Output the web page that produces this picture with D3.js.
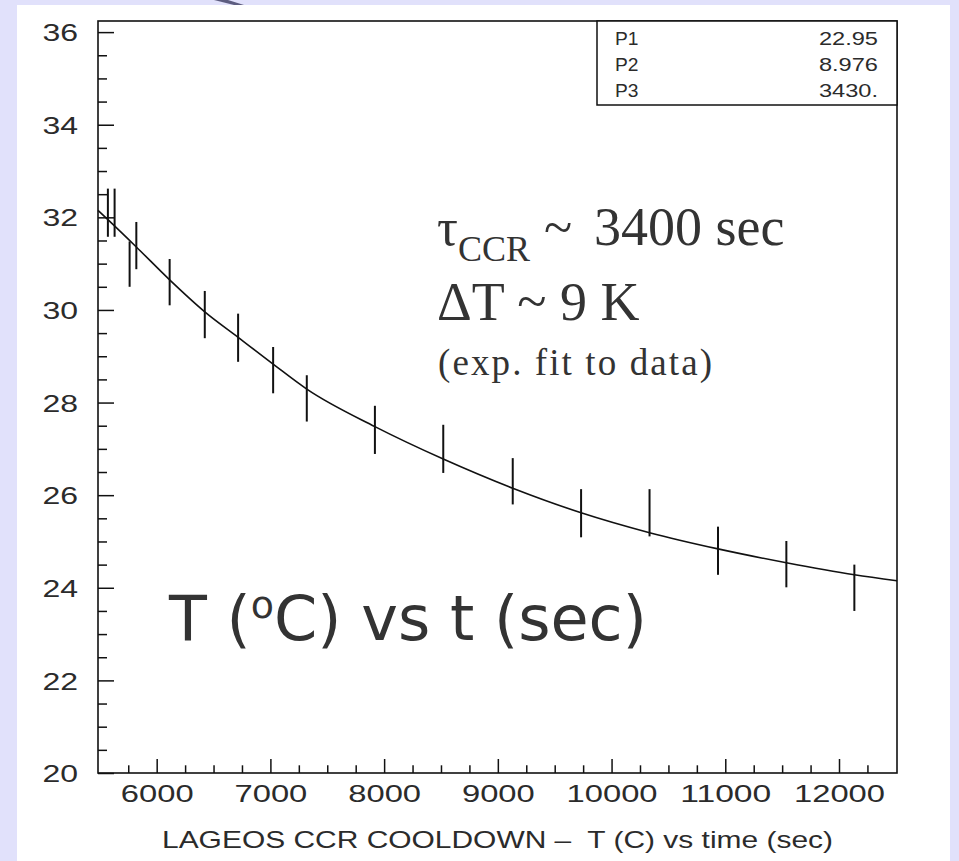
<!DOCTYPE html>
<html><head><meta charset="utf-8">
<script src="https://cdn.jsdelivr.net/npm/d3@7"></script>
<style>
html,body{margin:0;padding:0;background:#e1e1fb;overflow:hidden}
text{white-space:pre}
</style>
</head><body><svg id="c" width="959" height="861"></svg>
<script>
// ---- data ----
const times  = [5571, 5630, 5762, 5821, 6114, 6423, 6716, 7024, 7320, 7919, 8520, 9131, 9732, 10334, 10936, 11537, 12135];
const temps  = [32.10, 32.10, 30.99, 31.39, 30.60, 29.90, 29.40, 28.70, 28.09, 27.41, 27.00, 26.30, 25.61, 25.62, 24.80, 24.51, 24.00];
const errs   = [0.52, 0.52, 0.49, 0.51, 0.50, 0.51, 0.52, 0.50, 0.50, 0.52, 0.52, 0.50, 0.52, 0.51, 0.52, 0.50, 0.50];
const fitTimes = [5484, 5571, 5821, 6114, 6423, 6716, 7024, 7320, 7919, 8520, 9131, 9732, 10334, 10936, 11537, 12135, 12510];
const fitTemps = [32.15, 31.95, 31.36, 30.65, 29.96, 29.41, 28.83, 28.29, 27.48, 26.78, 26.15, 25.62, 25.19, 24.84, 24.54, 24.28, 24.15];
const xMajorTicks = [6000, 7000, 8000, 9000, 10000, 11000, 12000];
const xMinorTicks = [5750,6250,6500,6750,7250,7500,7750,8250,8500,8750,9250,9500,9750,10250,10500,10750,11250,11500,11750,12250];
const yMajorTicks = [20, 22, 24, 26, 28, 30, 32, 34, 36];
const yMinorTicks = [20.5,21,21.5,22.5,23,23.5,24.5,25,25.5,26.5,27,27.5,28.5,29,29.5,30.5,31,31.5,32.5,33,33.5,34.5,35,35.5];
const statNames  = ["P1", "P2", "P3"];
const statValues = ["22.95", "8.976", "3430."];
const xTitle = "LAGEOS CCR COOLDOWN \u2013  T (C) vs time (sec)";

const svg = d3.select("#c");
svg.append("rect").attr("width",959).attr("height",861).attr("fill","#e1e1fb");
svg.append("rect").attr("x",17).attr("y",5).attr("width",933).attr("height",856).attr("fill","#ffffff");
svg.append("path").attr("d","M214,0 L228,0 L244,5 L234,5 Z").attr("fill","#5d5d80");

const x = d3.scaleLinear().domain([5484, 12510]).range([98, 897]);
const y = d3.scaleLinear().domain([20, 36.24]).range([773, 21]);

const labelFont = "'Liberation Sans', Arial, sans-serif";
const ink = "#2b2b2b";

// minor ticks
svg.append("g").attr("transform","translate(0,773)")
  .call(d3.axisBottom(x).tickValues(xMinorTicks).tickSize(-7.7).tickFormat(""))
  .call(g=>g.select(".domain").remove())
  .call(g=>g.selectAll("line").attr("stroke","#111").attr("stroke-width",1.5));
svg.append("g").attr("transform","translate(98,0)")
  .call(d3.axisLeft(y).tickValues(yMinorTicks).tickSize(-9).tickFormat(""))
  .call(g=>g.select(".domain").remove())
  .call(g=>g.selectAll("line").attr("stroke","#111").attr("stroke-width",1.5));

// major ticks + labels
const gx = svg.append("g").attr("transform","translate(0,773)")
  .call(d3.axisBottom(x).tickValues(xMajorTicks).tickSize(-14).tickFormat(d=>String(d)))
  .call(g=>g.select(".domain").remove());
gx.selectAll("line").attr("stroke","#111").attr("stroke-width",1.5);
gx.selectAll("text").attr("y",29).attr("dy",null)
  .attr("font-family",labelFont).attr("font-size",24).attr("fill",ink)
  .attr("textLength",d=>String(d).length*18.2).attr("lengthAdjust","spacingAndGlyphs");

const gy = svg.append("g").attr("transform","translate(98,0)")
  .call(d3.axisLeft(y).tickValues(yMajorTicks).tickSize(-16).tickFormat(d=>String(d)))
  .call(g=>g.select(".domain").remove());
gy.selectAll("line").attr("stroke","#111").attr("stroke-width",1.5);
gy.selectAll("text").attr("x",-20).attr("dy","0.36em")
  .attr("font-family",labelFont).attr("font-size",24).attr("fill",ink)
  .attr("textLength",d=>String(d).length*17.8).attr("lengthAdjust","spacingAndGlyphs");

// frame
svg.append("rect").attr("x",x.range()[0]).attr("y",y.range()[1])
  .attr("width",x.range()[1]-x.range()[0]).attr("height",y.range()[0]-y.range()[1])
  .attr("fill","none").attr("stroke","#111").attr("stroke-width",1.6);

// x axis title
svg.append("text").attr("x",497.5).attr("y",848).attr("text-anchor","middle")
  .attr("font-family",labelFont).attr("font-size",24.5).attr("fill",ink)
  .attr("textLength",671).attr("lengthAdjust","spacingAndGlyphs").text(xTitle);

// stats box
const sb = svg.append("g");
sb.append("rect").attr("x",597).attr("y",y.range()[1]).attr("width",x.range()[1]-597).attr("height",84)
  .attr("fill","#fff").attr("stroke","#111").attr("stroke-width",1.5);
statNames.forEach((n,i)=>{
  const by = 45 + i*26;
  sb.append("text").attr("x",615).attr("y",by).attr("font-family",labelFont).attr("font-size",18.5)
    .attr("fill",ink).attr("textLength",23.5).attr("lengthAdjust","spacingAndGlyphs").text(n);
  const v = statValues[i];
  const nd = v.replace(/[^0-9]/g,"").length;
  const w = nd*13.4 + (v.length - nd)*5.5;
  sb.append("text").attr("x",878).attr("y",by).attr("text-anchor","end").attr("font-family",labelFont).attr("font-size",18.5)
    .attr("fill",ink).attr("textLength",w).attr("lengthAdjust","spacingAndGlyphs").text(v);
});

// fit curve
const line = d3.line().x((d,i)=>x(fitTimes[i])).y((d,i)=>y(fitTemps[i])).curve(d3.curveMonotoneX);
svg.append("path").datum(fitTimes).attr("d",line).attr("fill","none").attr("stroke","#111").attr("stroke-width",1.6);

// error bars
svg.append("g").selectAll("line").data(times).join("line")
  .attr("x1",(d)=>x(d)).attr("x2",(d)=>x(d))
  .attr("y1",(d,i)=>y(temps[i]+errs[i])).attr("y2",(d,i)=>y(temps[i]-errs[i]))
  .attr("stroke","#111").attr("stroke-width",2);

// slide overlay text
const serif = "'Liberation Serif', 'Times New Roman', serif";
const t1 = svg.append("text").attr("y",245).attr("font-family",serif).attr("fill","#333").attr("font-size",52);
t1.append("tspan").attr("x",437).text("\u03C4");
t1.append("tspan").attr("font-size",36).attr("dy",15.7).text("CCR");
t1.append("tspan").attr("x",544).attr("dy",-15.7).text("~ ");
t1.append("tspan").attr("x",594).attr("font-size",54).text("3400 sec");

svg.append("text").attr("x",437).attr("y",320).attr("font-family",serif).attr("fill","#333").attr("font-size",54)
  .text("\u0394T ~ 9 K");

svg.append("text").attr("x",438).attr("y",375).attr("font-family",serif).attr("fill","#333").attr("font-size",37)
  .attr("textLength",274).attr("lengthAdjust","spacing").text("(exp. fit to data)");

const t4 = svg.append("text").attr("x",169).attr("y",640).attr("font-family","'DejaVu Sans', Verdana, sans-serif")
  .attr("fill","#333").attr("font-size",62);
t4.append("tspan").text("T (");
t4.append("tspan").attr("font-size",38).attr("dy",-22).text("o");
t4.append("tspan").attr("dy",22).text("C) vs t (sec)");
</script></body></html>
